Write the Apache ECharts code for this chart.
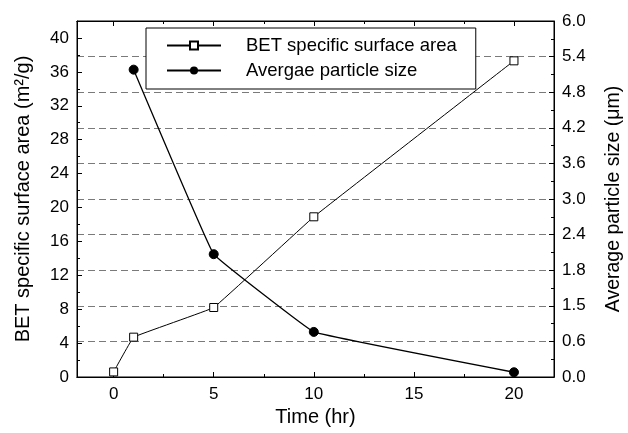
<!DOCTYPE html>
<html>
<head>
<meta charset="utf-8">
<script src="https://cdn.jsdelivr.net/npm/echarts@6/dist/echarts.min.js"></script>
<style>
  html, body { margin: 0; padding: 0; background: #fff; }
  #chart { width: 628px; height: 433px; }
</style>
</head>
<body>
<div id="chart"></div>
<script>
// data
var timeHr = [0, 1, 5, 10, 20];
var betArea = [0.6, 4.7, 8.2, 18.9, 37.3];
var particleTime = [1, 5, 10, 20];
var particleSize = [5.18, 2.07, 0.76, 0.08];
// tick positions
var xMajorTicks = [0, 5, 10, 15, 20];
var xMinorTicks = [-2.5, 2.5, 7.5, 12.5, 17.5];
// right axis tick labels as printed (the 1.2 tick reads "1.5" in the original)
var rightTickLabels = ['0.0', '0.6', '1.5', '1.8', '2.4', '3.0', '3.6', '4.2', '4.8', '5.4', '6.0'];

var myChart = echarts.init(document.getElementById('chart'));

var font = 'Liberation Sans, Arial, sans-serif';
var xMin = -1.83, xMax = 22;

// builds one x axis (bottom/top, major/minor ticks)
function xAxisOf(pos, ticks, len, withLabel) {
    return {
        type: 'value',
        position: pos,
        min: xMin,
        max: xMax,
        name: withLabel ? 'Time (hr)' : '',
        nameLocation: 'middle',
        nameGap: 30,
        nameTextStyle: { fontSize: 20, color: '#000', fontFamily: font },
        axisLine: { onZero: false, lineStyle: { color: '#000' } },
        axisTick: { inside: true, length: len, customValues: ticks, lineStyle: { color: '#000' } },
        axisLabel: withLabel ? { fontSize: 17, color: '#000', margin: 9, customValues: ticks } : { show: false },
        splitLine: { show: false }
    };
}

option = {
    backgroundColor: '#fff',
    animation: false,
    textStyle: { fontFamily: font },
    grid: {
        left: 77,
        right: 74,
        top: 21,
        bottom: 56,
        outerBoundsMode: 'none',
        show: true,
        borderColor: '#000',
        borderWidth: 1
    },
    legend: {
        left: 146,
        top: 28,
        orient: 'vertical',
        backgroundColor: '#fff',
        borderColor: '#000',
        borderWidth: 1,
        padding: [8, 19, 9, 20],
        itemGap: 6,
        itemWidth: 54,
        itemHeight: 10,
        textStyle: { fontSize: 18.5, color: '#000', fontFamily: font, padding: [0, 0, 0, 20] },
        data: ['BET specific surface area', 'Avergae particle size']
    },
    xAxis: [
        xAxisOf('bottom', xMajorTicks, 5, true),
        xAxisOf('bottom', xMinorTicks, 3, false),
        xAxisOf('top', xMajorTicks, 5, false),
        xAxisOf('top', xMinorTicks, 3, false)
    ],
    yAxis: [{
        type: 'value',
        min: 0,
        max: 42,
        interval: 4,
        name: 'BET specific surface area (m²/g)',
        nameLocation: 'middle',
        nameGap: 44,
        nameTextStyle: { fontSize: 20, color: '#000', fontFamily: font },
        axisLine: { show: true, onZero: false, lineStyle: { color: '#000' } },
        axisTick: { inside: true, length: 5, lineStyle: { color: '#000' } },
        minorTick: { show: true, splitNumber: 2, length: 3, lineStyle: { color: '#000' } },
        axisLabel: {
            fontSize: 17, color: '#000', margin: 8,
            formatter: function (v) { return v > 40 ? '' : String(v); }
        },
        splitLine: { show: false }
    }, {
        type: 'value',
        position: 'right',
        min: 0,
        max: 6,
        interval: 0.6,
        name: 'Average particle size (μm)',
        nameLocation: 'middle',
        nameGap: 50,
        nameRotate: 90,
        nameTextStyle: { fontSize: 19.5, color: '#000', fontFamily: font },
        axisLine: { show: true, onZero: false, lineStyle: { color: '#000' } },
        axisTick: { inside: true, length: 5, lineStyle: { color: '#000' } },
        minorTick: { show: true, splitNumber: 2, length: 3, lineStyle: { color: '#000' } },
        axisLabel: {
            fontSize: 17, color: '#000', margin: 8,
            formatter: function (v) { return rightTickLabels[Math.round(v / 0.6)]; }
        },
        splitLine: { show: true, lineStyle: { color: '#7a7a7a', type: [7, 4], width: 1 } }
    }],
    series: [{
        name: 'BET specific surface area',
        type: 'line',
        xAxisIndex: 0,
        yAxisIndex: 0,
        smooth: 0.05,
        symbol: 'rect',
        symbolSize: 8,
        itemStyle: { color: '#fff', borderColor: '#000', borderWidth: 1 },
        lineStyle: { color: '#000', width: 1 },
        data: timeHr.map(function (t, i) { return [t, betArea[i]]; })
    }, {
        name: 'Avergae particle size',
        type: 'line',
        xAxisIndex: 0,
        yAxisIndex: 1,
        smooth: 0.05,
        symbol: 'circle',
        symbolSize: 9,
        itemStyle: { color: '#000', borderColor: '#000' },
        lineStyle: { color: '#000', width: 1.3 },
        data: particleTime.map(function (t, i) { return [t, particleSize[i]]; })
    }]
};

myChart.setOption(option);
</script>
</body>
</html>
